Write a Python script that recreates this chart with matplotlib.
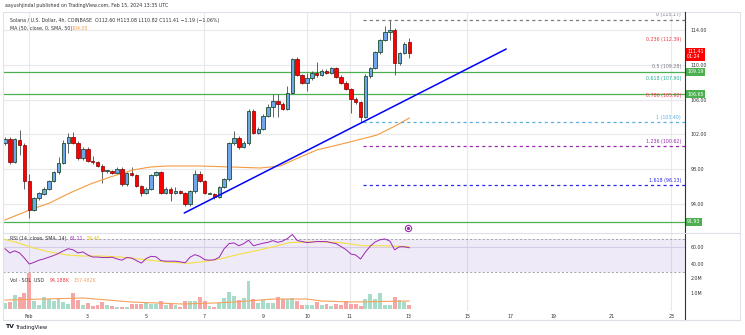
import numpy as np
import matplotlib.pyplot as plt
import matplotlib.transforms as mtransforms

# 4h candles
opens = [100.99, 101.48, 98.83, 101.36, 100.79, 96.64, 93.31, 94.69, 95.15, 95.72,
         96.64, 97.68, 98.71, 100.99, 101.71, 100.99, 99.29, 100.33, 98.94, 98.83,
         98.37, 97.79, 97.79, 97.56, 98.02, 96.29, 97.56, 97.33, 96.06, 95.26,
         95.72, 97.33, 97.68, 95.26, 95.72, 95.26, 95.49, 95.30, 93.99, 95.49,
         97.45, 96.64, 95.20, 95.20, 94.80, 95.95, 96.87, 100.99, 101.60, 100.56,
         101.00, 104.70, 102.17, 102.63, 104.12, 105.16, 105.85, 105.50, 104.93, 106.77,
         110.68, 108.84, 107.92, 108.50, 109.07, 108.84, 109.30, 109.07, 109.65, 108.61,
         107.92, 107.23, 106.08, 105.73, 104.01, 108.73, 109.65, 111.49, 112.87, 113.79,
         114.00, 110.22, 111.37, 112.60]
highs = [101.70, 101.70, 101.60, 102.51, 101.00, 97.45, 94.80, 95.40, 95.90, 96.80,
         97.80, 99.40, 101.40, 102.17, 102.30, 101.20, 100.50, 100.60, 99.50, 99.00,
         98.60, 97.95, 97.90, 98.20, 98.20, 97.70, 98.25, 97.50, 96.20, 95.90,
         97.50, 97.80, 97.80, 95.90, 95.90, 96.00, 95.60, 95.40, 95.60, 97.91,
         97.80, 96.80, 95.35, 95.30, 96.10, 97.00, 101.10, 102.40, 101.80, 101.20,
         104.90, 104.90, 102.80, 104.30, 105.50, 106.70, 106.70, 105.70, 107.57, 110.80,
         110.90, 109.00, 109.07, 109.30, 110.34, 109.50, 109.50, 109.80, 109.80, 108.80,
         108.10, 107.40, 106.30, 105.90, 108.90, 109.80, 111.60, 113.00, 114.48, 115.17,
         114.20, 111.50, 112.60, 113.08]
lows = [100.80, 98.60, 98.70, 99.64, 95.72, 92.39, 93.20, 94.50, 95.00, 95.60,
        96.50, 97.50, 98.60, 99.87, 100.90, 99.10, 99.10, 98.80, 98.60, 98.20,
        96.41, 97.60, 97.40, 97.40, 96.10, 96.10, 97.20, 95.90, 94.90, 95.10,
        95.60, 97.20, 95.10, 95.10, 94.34, 95.10, 95.10, 93.80, 93.80, 95.30,
        96.50, 95.10, 95.10, 94.60, 94.70, 95.80, 96.70, 100.80, 100.30, 100.40,
        100.80, 102.00, 102.00, 102.50, 104.00, 104.00, 104.00, 104.80, 104.80, 106.60,
        108.70, 107.80, 107.00, 108.30, 108.61, 108.70, 108.90, 108.90, 108.50, 107.80,
        107.10, 104.47, 105.50, 103.43, 103.90, 108.50, 109.50, 111.30, 112.70, 112.87,
        108.84, 110.00, 111.20, 110.82]
closes = [101.48, 98.83, 101.48, 100.79, 96.64, 93.31, 94.69, 95.26, 95.72, 96.64,
          97.68, 98.71, 100.99, 101.71, 100.99, 99.29, 100.33, 98.94, 98.83, 98.37,
          97.79, 97.80, 97.56, 98.02, 96.29, 97.56, 97.33, 96.06, 95.26, 95.72,
          97.33, 97.68, 95.26, 95.72, 95.26, 95.49, 95.30, 93.99, 95.49, 97.45,
          96.64, 95.26, 95.26, 94.80, 95.95, 96.87, 100.99, 101.60, 100.56, 101.00,
          104.70, 102.17, 102.63, 104.12, 105.16, 105.85, 105.50, 104.93, 106.77, 110.68,
          108.84, 107.92, 108.50, 109.07, 108.84, 109.30, 109.07, 109.65, 108.61, 107.92,
          107.23, 106.08, 105.73, 104.01, 108.73, 109.65, 111.49, 112.87, 113.79, 114.00,
          110.22, 111.37, 112.41, 111.41]
volumes = [123, 143, 274, 241, 314, 711, 157, 78, 241, 190,
           163, 210, 143, 98, 308, 176, 78, 112, 59, 78,
           143, 78, 59, 45, 33, 45, 98, 98, 98, 112,
           98, 98, 163, 78, 98, 78, 33, 163, 163, 163,
           229, 163, 59, 33, 112, 210, 339, 255, 176, 210,
           549, 196, 123, 176, 123, 112, 229, 190, 190, 216,
           163, 78, 78, 78, 143, 78, 98, 59, 98, 78,
           163, 98, 98, 59, 190, 288, 190, 308, 78, 78,
           229, 176, 143, 78]
rsi = [58, 53, 55.5, 53, 47, 40, 42, 44.5, 46, 48,
       50, 52.5, 55.5, 58, 56.7, 53, 54.2, 50.6, 48.2, 48.2,
       47.6, 47.6, 48, 46, 44.5, 47.6, 47, 44, 41, 46.5,
       49, 48.5, 44, 43.3, 43.3, 43.3, 42.5, 41.5, 48, 51,
       49, 45, 44.5, 45, 48, 58, 64, 64.8, 61.5, 63.9,
       68, 61.5, 63, 64.5, 65.5, 67.5, 65.5, 67, 70, 74.8,
       67.6, 66.5, 65.2, 65.8, 66.4, 66.4, 66.4, 65, 63.9, 60.5,
       57, 51.8, 50.6, 45.8, 54.2, 61, 66, 68.5, 69.5, 67,
       56.7, 60.3, 60.3, 59.1]

# smoothed lines, read at a few points (candle index, value)
ma_idx = [0, 5.1, 9.2, 13.3, 17.5, 21.6, 26.3, 29.8, 33.3, 40, 46.8, 52.4, 56.5, 60.6, 64, 70.8, 76.4, 80.5, 83]
ma_val = [92.16, 93.31, 94.12, 95.26, 96.29, 97.10, 97.91, 98.25, 98.37, 98.37, 98.25, 98.14, 98.37, 99.4, 100.21, 101.13, 101.94, 103.09, 103.89]
rsima_idx = [0, 2.5, 5.7, 9.2, 12.7, 16, 19.5, 23.6, 29.8, 33.3, 38, 41, 44, 48.3, 52.4, 58.5, 64, 68.8, 73.5, 77.6, 83]
rsima_val = [68.8, 65.2, 59.1, 54.2, 50.6, 49.4, 49.4, 48.2, 44.5, 42.1, 40.9, 43.0, 45.8, 51.8, 56.7, 65.2, 66.4, 65.2, 61.5, 61.5, 60.3]
vma_idx = [0, 16, 26, 36.5, 43, 47, 55, 62, 65, 71, 83]
vma_val = [176, 216, 137, 98, 118, 137, 196, 196, 157, 137, 157]

fib_top = 115.17
fib_bottom = 103.40
fib_levels = [0, 0.236, 0.5, 0.618, 0.786, 1, 1.236, 1.618]
fib_colors = ['#787b86', '#f23645', '#787b86', '#22ab94', '#f23645', '#5bb0e0', '#9c27b0', '#2a2ae6']
support_lines = [109.19, 106.65, 91.93]
trend_x = [36.8, 102.9]
trend_y = [92.96, 111.83]

xtick_pos = [4.9, 16.8, 29, 40.9, 53, 62, 70.8, 82.8, 94.9, 103.7, 112.5, 124.6, 136.8]
xtick_lab = ['Feb', '3', '5', '7', '9', '10', '11', '13', '15', '17', '19', '21', '23']
vgrid = [4.9, 40.9, 62, 70.8, 94.9, 136.8]

W, H = 745, 335
fig = plt.figure(figsize=(W / 100, H / 100), dpi=100)
plt.rcParams['font.family'] = ['DejaVu Sans']
fs = 3.4

def box(x0, y0, x1, y1):
    return [x0 / W, 1 - y1 / H, (x1 - x0) / W, (y1 - y0) / H]

ax = fig.add_axes(box(3, 12, 685, 233))
ax_r = fig.add_axes(box(3, 233, 685, 273), sharex=ax)
ax_v = fig.add_axes(box(3, 273, 685, 311), sharex=ax)

n = len(opens)
x = np.arange(n)
o = np.array(opens); c = np.array(closes)
up = c >= o

grid_c = '#e9e9ec'
for a in (ax, ax_r, ax_v):
    for g in vgrid:
        a.axvline(g, color=grid_c, lw=0.8, zorder=0)
    for s in a.spines.values():
        s.set_visible(False)
    a.tick_params(length=0, labelsize=fs, colors='#333333', pad=4)
    a.yaxis.tick_right()

# main price pane
for lvl in [94, 98, 102, 106, 110, 114]:
    ax.axhline(lvl, color=grid_c, lw=0.8, zorder=0)

ax.vlines(x, lows, highs, color='#4a4a4a', lw=0.6, zorder=2)
body_lo = np.minimum(o, c); body_h = np.maximum(np.abs(c - o), 0.08)
ax.bar(x[up], body_h[up], bottom=body_lo[up], width=0.72, color='#6ea6e8',
       edgecolor='#1f4d2e', linewidth=0.6, zorder=3)
ax.bar(x[~up], body_h[~up], bottom=body_lo[~up], width=0.72, color='#ff0000',
       edgecolor='#7a0000', linewidth=0.5, zorder=3)

ax.plot(ma_idx, ma_val, color='#f59b42', lw=0.8, zorder=2)

for lv in support_lines:
    ax.axhline(lv, color='#4caf50', lw=0.9, zorder=1)

ax.plot(trend_x, trend_y, color='#0000ff', lw=1.1, zorder=4, solid_capstyle='round')

rng = fib_top - fib_bottom
shown = {0: '--', 1: '--', 1.236: '--', 1.618: ':'}
for lvl, col in zip(fib_levels, fib_colors):
    price = fib_top - lvl * rng
    if lvl in shown:
        ax.plot([73.5, 139.6], [price, price], color=col, lw=0.9, ls=(0, (2.5, 2.5)), zorder=2)
    ax.text(138.8, price + 0.3, f'{lvl:g} ({price:.2f})', color=col, fontsize=fs,
            ha='right', va='bottom')

ax.plot(82.8, 91.24, 'o', ms=4.5, mfc='white', mec='#9c27b0', mew=0.8, zorder=5)
ax.plot(82.8, 91.24, 'o', ms=1.3, color='#9c27b0', zorder=6)

ax.set_ylim(90.66, 116.09)
ax.set_xlim(-0.4, 139.6)
ax.set_yticks([94, 98, 102, 106, 110, 114])
ax.set_yticklabels([f'{t:.2f}' for t in [94, 98, 102, 106, 110, 114]])
plt.setp(ax.get_xticklabels(), visible=False)

trans = mtransforms.blended_transform_factory(ax.transAxes, ax.transData)
for lv in support_lines:
    ax.text(1.003, lv, f'{lv:.2f}', transform=trans, fontsize=fs, color='white',
            va='center', ha='left', bbox=dict(boxstyle='square,pad=0.3', fc='#4caf50', ec='none'))
ax.text(1.003, closes[-1] - 0.2, f'{closes[-1]:.2f}\n01:24', transform=trans, fontsize=fs,
        color='white', va='center', ha='left', linespacing=1.0,
        bbox=dict(boxstyle='square,pad=0.3', fc='#ff0000', ec='none'))

ax.text(0.01, 0.975, 'Solana / U.S. Dollar, 4h, COINBASE  O112.60 H113.08 L110.82 C111.41 \u22121.19 (\u22121.06%)',
        transform=ax.transAxes, fontsize=fs, color='#333333', va='top')
ax.text(0.01, 0.935, 'MA (50, close, 0, SMA, 50)', transform=ax.transAxes, fontsize=fs,
        color='#333333', va='top')
ax.text(0.1, 0.935, '104.05', transform=ax.transAxes, fontsize=fs, color='#f59b42', va='top')

# RSI pane
ax_r.axhspan(30, 70, color='#7e57c2', alpha=0.12, lw=0, zorder=0)
ax_r.axhline(70, color='#9598a1', lw=0.6, ls=(0, (2.5, 2.5)))
ax_r.axhline(30, color='#9598a1', lw=0.6, ls=(0, (2.5, 2.5)))
ax_r.axhline(60, color='#d6cce8', lw=0.8)
ax_r.plot(rsima_idx, rsima_val, color='#f5e042', lw=0.8)
ax_r.plot(x, rsi, color='#9c27b0', lw=0.7)
ax_r.set_ylim(29.4, 76.5)
ax_r.set_yticks([60, 40])
ax_r.set_yticklabels(['60.00', '40.00'])
plt.setp(ax_r.get_xticklabels(), visible=False)
ax_r.text(0.01, 0.93, 'RSI (14, close, SMA, 14)', transform=ax_r.transAxes, fontsize=fs,
          color='#333333', va='top')
ax_r.text(0.098, 0.93, '61.11', transform=ax_r.transAxes, fontsize=fs, color='#9c27b0', va='top')
ax_r.text(0.122, 0.93, '59.40', transform=ax_r.transAxes, fontsize=fs, color='#e8c400', va='top')

# volume pane
vol_col = np.where(up, '#a8dcc9', '#f7a6a6')
ax_v.bar(x, volumes, width=0.8, color=vol_col, zorder=2)
ax_v.plot(vma_idx, vma_val, color='#f7a15c', lw=0.8, zorder=3)
ax_v.set_ylim(-39, 706)
ax_v.set_yticks([314, 608])
ax_v.set_yticklabels(['1.0M', '2.0M'])
ax_v.text(0.01, 0.86, 'Vol \u00b7 SOL  USD', transform=ax_v.transAxes, fontsize=fs,
          color='#333333', va='top')
ax_v.text(0.068, 0.86, '94.188K', transform=ax_v.transAxes, fontsize=fs, color='#f23645', va='top')
ax_v.text(0.103, 0.86, '157.482K', transform=ax_v.transAxes, fontsize=fs, color='#f7a15c', va='top')
ax_v.set_xticks(xtick_pos)
ax_v.set_xticklabels(xtick_lab)
ax_v.tick_params(axis='x', pad=2)

# frame lines
fig.add_artist(plt.Line2D([685 / W, 685 / W], [1 - 320 / H, 1 - 12 / H], color='#333333', lw=0.8))
fig.add_artist(plt.Line2D([3 / W, 740 / W], [1 - 233 / H, 1 - 233 / H], color='#dde0e6', lw=0.8))
fig.add_artist(plt.Line2D([3 / W, 740 / W], [1 - 320 / H, 1 - 320 / H], color='#dde0e6', lw=0.8))
fig.add_artist(plt.Rectangle((3 / W, 1 - 320 / H), 737 / W, 308 / H, fill=False, ec='#e0e3eb', lw=0.8))

fig.text(5 / W, 1 - 5 / H, 'aayushjindal published on TradingView.com, Feb 15, 2024 13:35 UTC',
         fontsize=fs, color='#333333', va='center')
fig.text(5 / W, 1 - 327 / H, 'TV', fontsize=4.5, color='#131722', weight='bold', va='center')
fig.text(16 / W, 1 - 327 / H, 'TradingView', fontsize=3.8, color='#131722', va='center')

fig.savefig('out.png', dpi=100, facecolor='white')
